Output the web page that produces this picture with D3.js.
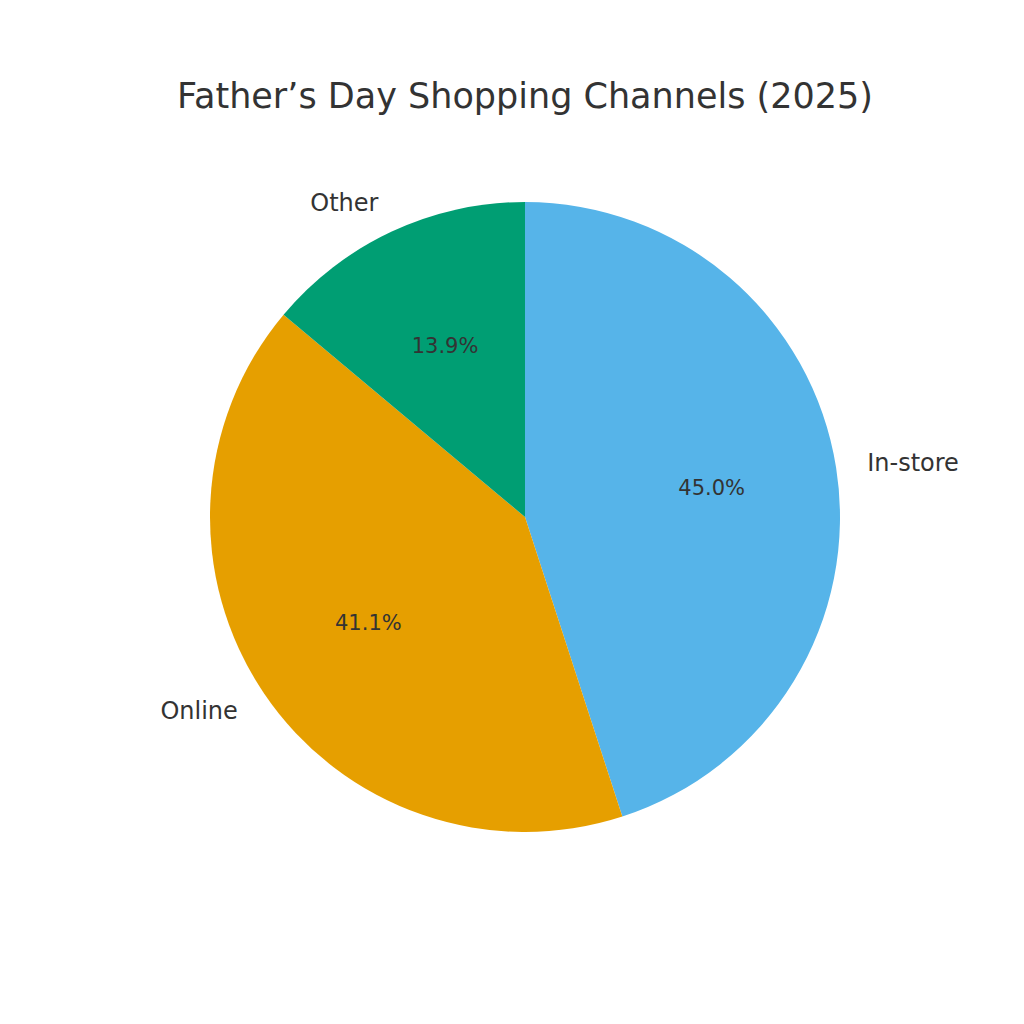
<!DOCTYPE html>
<html>
<head>
<meta charset="utf-8">
<script src="https://cdn.jsdelivr.net/npm/d3@7"></script>
<style>
  body { margin: 0; background: #fff; }
  text { font-family: "DejaVu Sans", sans-serif; fill: #333333; }
</style>
</head>
<body>
<script>
// chart data
var channels = ["In-store", "Online", "Other"];
var shares = [45.0, 41.1, 13.9];
var colors = ["#56B4E9", "#E69F00", "#009E73"];
var title = "Father\u2019s Day Shopping Channels (2025)";

var width = 1024, height = 1024;
var cx = 525, cy = 517, radius = 315;

var svg = d3.select("body").append("svg")
    .attr("width", width)
    .attr("height", height);

svg.append("text")
    .attr("x", 525)
    .attr("y", 108)
    .attr("text-anchor", "middle")
    .style("font-size", "35px")
    .text(title);

var g = svg.append("g")
    .attr("transform", "translate(" + cx + "," + cy + ")");

var pie = d3.pie().sort(null).value(function (d) { return d; });
var arcs = pie(shares);
var arc = d3.arc().innerRadius(0).outerRadius(radius);

g.selectAll("path")
    .data(arcs)
    .enter().append("path")
    .attr("d", arc)
    .attr("fill", function (d, i) { return colors[i]; });

function mid(d) { return (d.startAngle + d.endAngle) / 2; }

// category labels outside
g.selectAll(".lbl")
    .data(arcs)
    .enter().append("text")
    .attr("class", "lbl")
    .attr("x", function (d) { return 1.1 * radius * Math.sin(mid(d)); })
    .attr("y", function (d) { return -1.1 * radius * Math.cos(mid(d)); })
    .attr("dy", "0.35em")
    .attr("text-anchor", function (d) { return Math.sin(mid(d)) > 0 ? "start" : "end"; })
    .style("font-size", "24px")
    .text(function (d, i) { return channels[i]; });

// percentages inside
g.selectAll(".pct")
    .data(arcs)
    .enter().append("text")
    .attr("class", "pct")
    .attr("x", function (d) { return 0.6 * radius * Math.sin(mid(d)); })
    .attr("y", function (d) { return -0.6 * radius * Math.cos(mid(d)); })
    .attr("dy", "0.35em")
    .attr("text-anchor", "middle")
    .style("font-size", "21px")
    .text(function (d) { return d.data.toFixed(1) + "%"; });
</script>
</body>
</html>
